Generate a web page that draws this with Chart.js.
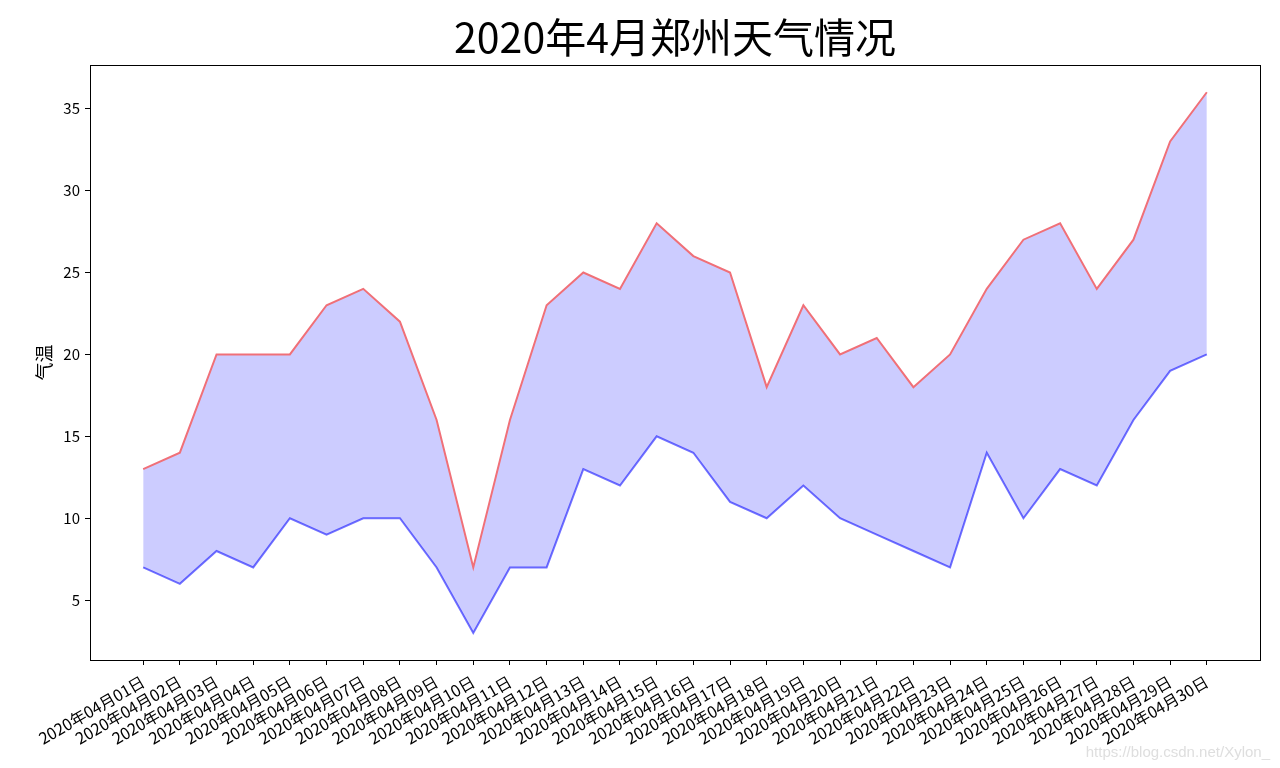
<!DOCTYPE html>
<html>
<head>
<meta charset="utf-8">
<script src="https://cdn.jsdelivr.net/npm/chart.js@4/dist/chart.umd.min.js"></script>
<style>
  html, body { margin: 0; padding: 0; background: #fff; }
  #wrap { width: 1280px; height: 768px; }
</style>
</head>
<body>
<div id="wrap"><canvas id="weatherChart" width="1280" height="768"></canvas></div>
<script>
// 2020年4月 郑州 每日最高/最低气温
const dates = [];
for (let d = 1; d <= 30; d++) dates.push('2020年04月' + String(d).padStart(2, '0') + '日');
const highTemps = [13, 14, 20, 20, 20, 23, 24, 22, 16, 7, 16, 23, 25, 24, 28, 26, 25, 18, 23, 20, 21, 18, 20, 24, 27, 28, 24, 27, 33, 36];
const lowTemps  = [7, 6, 8, 7, 10, 9, 10, 10, 7, 3, 7, 7, 13, 12, 15, 14, 11, 10, 12, 10, 9, 8, 7, 14, 10, 13, 12, 16, 19, 20];
const yTicks = [5, 10, 15, 20, 25, 30, 35];

const FONT = "'Noto Sans CJK SC', 'DejaVu Sans', sans-serif";

// box round the plot, plus the faint source mark
const framePlugin = {
  id: 'frame',
  afterDraw(chart) {
    const { ctx, chartArea: a } = chart;
    ctx.save();
    ctx.strokeStyle = '#000';
    ctx.lineWidth = 1;
    ctx.strokeRect(Math.round(a.left) + 0.5, Math.round(a.top) + 0.5, Math.round(a.right - a.left), Math.round(a.bottom - a.top));
    ctx.fillStyle = 'rgba(200,200,200,0.6)';
    ctx.font = "15px 'Liberation Sans', Arial, sans-serif";
    ctx.textAlign = 'right';
    ctx.textBaseline = 'alphabetic';
    ctx.fillText('https://blog.csdn.net/Xylon_', 1270, 757);
    ctx.restore();
  }
};

const toPoints = arr => arr.map((v, i) => ({ x: i, y: v }));

new Chart(document.getElementById('weatherChart'), {
  type: 'line',
  data: {
    datasets: [
      {
        label: '最高气温',
        data: toPoints(highTemps),
        borderColor: '#f07078',
        borderWidth: 2,
        backgroundColor: 'rgba(0, 0, 255, 0.2)',
        fill: '+1',
        pointRadius: 0,
        tension: 0
      },
      {
        label: '最低气温',
        data: toPoints(lowTemps),
        borderColor: '#7373ff',
        borderWidth: 2,
        fill: false,
        pointRadius: 0,
        tension: 0
      }
    ]
  },
  options: {
    responsive: false,
    animation: false,
    layout: { padding: { left: 0, right: 20, top: 0, bottom: 0 } },
    plugins: {
      legend: { display: false },
      tooltip: { enabled: false },
      title: {
        display: true,
        fullSize: false,
        text: '2020年4月郑州天气情况',
        color: '#000',
        font: { family: FONT, size: 41, weight: 'normal', lineHeight: 1.2 },
        padding: { top: 13, bottom: 3 }
      }
    },
    scales: {
      x: {
        type: 'linear',
        min: -1.45,
        max: 30.45,
        grid: { drawOnChartArea: false, drawTicks: true, tickLength: 5, color: '#000' },
        border: { display: true, color: '#000' },
        afterBuildTicks: scale => { scale.ticks = dates.map((_, i) => ({ value: i })); },
        afterFit: scale => { scale.height = 108; },
        ticks: {
          autoSkip: false,
          minRotation: 30,
          maxRotation: 30,
          padding: 7,
          color: '#000',
          font: { family: FONT, size: 16 },
          callback: value => dates[value]
        }
      },
      y: {
        min: 1.35,
        max: 37.65,
        grid: { drawOnChartArea: false, drawTicks: true, tickLength: 5, color: '#000' },
        border: { display: true, color: '#000' },
        afterBuildTicks: scale => { scale.ticks = yTicks.map(v => ({ value: v })); },
        afterFit: scale => { scale.width = 90; },
        ticks: {
          padding: 5,
          color: '#000',
          font: { family: FONT, size: 15 }
        },
        title: {
          display: true,
          text: '气温',
          color: '#000',
          font: { family: FONT, size: 18 },
          padding: { top: 33, bottom: 0 }
        }
      }
    }
  },
  plugins: [framePlugin]
});
</script>
</body>
</html>
